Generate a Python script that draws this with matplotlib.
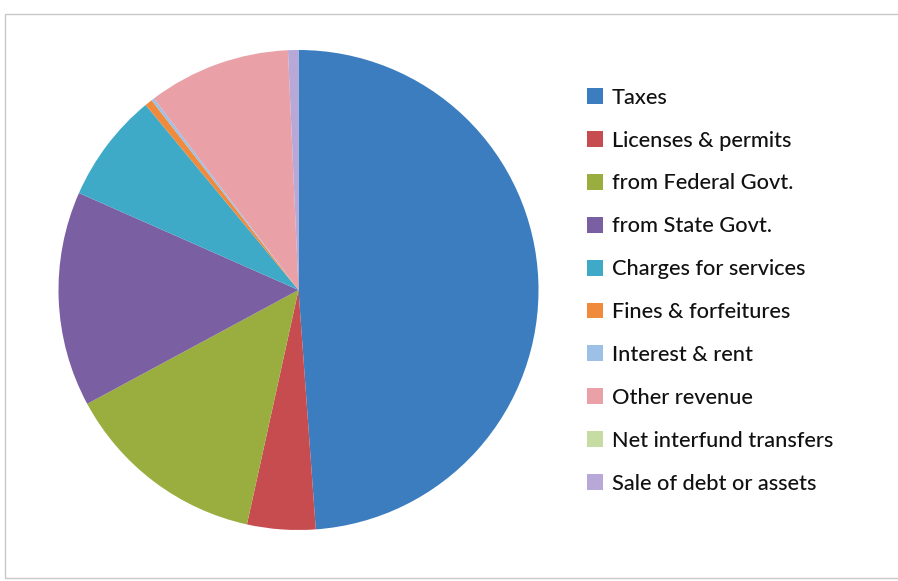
import matplotlib

matplotlib.use('Agg')
import matplotlib.pyplot as plt
from matplotlib.patches import Patch, Rectangle

# revenue shares (percent)
categories = ['Taxes', 'Licenses & permits', 'from Federal Govt.', 'from State Govt.',
              'Charges for services', 'Fines & forfeitures', 'Interest & rent',
              'Other revenue', 'Net interfund transfers', 'Sale of debt or assets']
shares = [48.9, 4.6, 13.7, 14.5, 7.4, 0.5, 0.2, 9.6, 0.0, 0.7]
colors = ['#3b7dbf', '#c64c50', '#9aae40', '#7b5fa3', '#3eaac8', '#f08a3c',
          '#9dc0e6', '#e9a0a7', '#c7dca2', '#b8a8d8']

plt.rcParams['font.family'] = ['Lato', 'DejaVu Sans']

W, H = 898, 581
fig = plt.figure(figsize=(W / 100, H / 100), dpi=100)
fig.patch.set_facecolor('white')

# thin frame of the chart area
fig.patches.append(Rectangle((5 / W, 3 / H), 1.2, (H - 17) / H, transform=fig.transFigure,
                             fill=False, edgecolor='#c8c8c8', linewidth=1))

cx, cy, r = 298.5, 290, 240
ax = fig.add_axes([(cx - r) / W, (H - cy - r) / H, 2 * r / W, 2 * r / H])
ax.pie(shares, colors=colors, startangle=90, counterclock=False,
       wedgeprops=dict(linewidth=0))
ax.set_xlim(-1, 1)
ax.set_ylim(-1, 1)
ax.set_aspect('equal')
ax.axis('off')

handles = [Patch(facecolor=c, edgecolor='none') for c in colors]
leg = fig.legend(handles, categories, loc='upper left', bbox_to_anchor=(567 / W, 1 - 68 / H),
                 frameon=False, handlelength=0.75, handleheight=0.75,
                 handletextpad=0.4, labelspacing=1.05, labelcolor='#111111',
                 prop=dict(size=15.7, weight='medium'))

fig.savefig('out.png', dpi=100)
plt.close(fig)
